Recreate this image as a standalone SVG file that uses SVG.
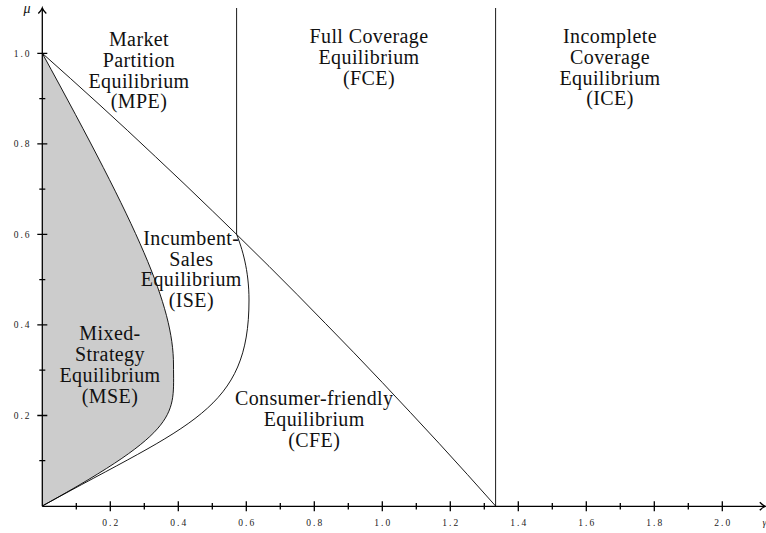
<svg xmlns="http://www.w3.org/2000/svg" width="766" height="533" viewBox="0 0 766 533">
<style>
.lbl{font-family:"Liberation Serif","DejaVu Serif",serif;font-size:20px;letter-spacing:0.4px;fill:#111;text-anchor:middle}
.tk{font-family:"Liberation Serif","DejaVu Serif",serif;font-size:9.5px;letter-spacing:2px;fill:#222}
.ln{fill:none;stroke:#000;stroke-width:0.9}
.ax{fill:none;stroke:#000;stroke-width:1.3}
</style>
<rect width="766" height="533" fill="#fff"/>
<g id="mse-region">
<path d="M42.3,53.3 C138.3,228.7 173.5,305 173.5,365 C173.5,415 182.3,428.6 42.3,506 Z" fill="#cccccc" stroke="none"/>
</g>
<g id="connectors">
<path class="ln" d="M42.3,53.3 C138.3,228.7 173.5,305 173.5,365 C173.5,415 182.3,428.6 42.3,506"/>
<path class="ln" d="M42.3,506 C191.1,423.7 249,410 249,300 C249,270 242,248 236.6,234.4"/>
<polyline class="ln" points="42.3,53.3 70.6,78.6 99,104.3 127.3,130.3 155.6,156.8 184,183.6 212.3,210.8 236.6,234.4 269,266.3 297.3,294.7 325.6,323.6 354,352.8 382.3,382.5 410.6,412.7 439,443.3 467.3,474.4 495.6,506"/>
<line class="ln" x1="236.6" y1="8" x2="236.6" y2="234.4"/>
<line class="ln" x1="495.6" y1="8" x2="495.6" y2="506"/>
</g>
<g id="axes">
<line class="ax" x1="42.3" y1="506.3" x2="42.3" y2="8.5"/>
<line class="ax" x1="42.3" y1="506.3" x2="764.5" y2="506.3"/>
<path class="ax" d="M38.3,13.5 Q41.5,10.5 42.3,8 Q43.1,10.5 46.3,13.5"/>
<path class="ax" d="M759.8,502.3 Q762.8,505.5 765.3,506.3 Q762.8,507.1 759.8,510.3"/>
<path class="ax" stroke-width="1" d="M110.3,501.3V511.3 M178.3,501.3V511.3 M246.3,501.3V511.3 M314.3,501.3V511.3 M382.3,501.3V511.3 M450.3,501.3V511.3 M518.3,501.3V511.3 M586.3,501.3V511.3 M654.3,501.3V511.3 M722.3,501.3V511.3
M76.3,503V509.6 M144.3,503V509.6 M212.3,503V509.6 M280.3,503V509.6 M348.3,503V509.6 M416.3,503V509.6 M484.3,503V509.6 M552.3,503V509.6 M620.3,503V509.6 M688.3,503V509.6
M37.3,415.5H47.3 M37.3,324.9H47.3 M37.3,234.4H47.3 M37.3,143.8H47.3 M37.3,53.3H47.3
M39.3,460.7H45.3 M39.3,370.2H45.3 M39.3,279.7H45.3 M39.3,189.1H45.3 M39.3,98.6H45.3"/>
<g class="tk" text-anchor="middle">
<text x="111.3" y="526">0.2</text>
<text x="179.3" y="526">0.4</text>
<text x="247.3" y="526">0.6</text>
<text x="315.3" y="526">0.8</text>
<text x="383.3" y="526">1.0</text>
<text x="451.3" y="526">1.2</text>
<text x="519.3" y="526">1.4</text>
<text x="587.3" y="526">1.6</text>
<text x="655.3" y="526">1.8</text>
<text x="723.3" y="526">2.0</text>
</g>
<g class="tk" text-anchor="end">
<text x="31.5" y="418.8">0.2</text>
<text x="31.5" y="328.2">0.4</text>
<text x="31.5" y="237.7">0.6</text>
<text x="31.5" y="147.1">0.8</text>
<text x="31.5" y="56.6">1.0</text>
</g>
<text x="27" y="13" font-family="'Liberation Serif','DejaVu Serif',serif" font-style="italic" font-size="14" text-anchor="middle" fill="#111">μ</text>
<text x="762.5" y="526" font-family="'Liberation Serif','DejaVu Serif',serif" font-style="italic" font-size="10" fill="#222">γ</text>
</g>
<g id="MPE">
<text class="lbl" x="139" y="45.7">Market</text>
<text class="lbl" x="139" y="66.6">Partition</text>
<text class="lbl" x="139" y="87.5">Equilibrium</text>
<text class="lbl" x="139" y="108.4">(MPE)</text>
</g>
<g id="FCE">
<text class="lbl" x="369" y="42.7">Full Coverage</text>
<text class="lbl" x="369" y="63.6">Equilibrium</text>
<text class="lbl" x="369" y="84.5">(FCE)</text>
</g>
<g id="ICE">
<text class="lbl" x="610" y="42.7">Incomplete</text>
<text class="lbl" x="610" y="63.6">Coverage</text>
<text class="lbl" x="610" y="84.5">Equilibrium</text>
<text class="lbl" x="610" y="105.4">(ICE)</text>
</g>
<g id="ISE">
<text class="lbl" x="191.3" y="245">Incumbent-</text>
<text class="lbl" x="191.3" y="265.8">Sales</text>
<text class="lbl" x="191.3" y="286.4">Equilibrium</text>
<text class="lbl" x="191.3" y="307">(ISE)</text>
</g>
<g id="MSE">
<text class="lbl" x="110" y="340">Mixed-</text>
<text class="lbl" x="110" y="361">Strategy</text>
<text class="lbl" x="110" y="382">Equilibrium</text>
<text class="lbl" x="110" y="403">(MSE)</text>
</g>
<g id="CFE">
<text class="lbl" x="314.2" y="405">Consumer-friendly</text>
<text class="lbl" x="314.2" y="426">Equilibrium</text>
<text class="lbl" x="314.2" y="447">(CFE)</text>
</g>
</svg>
